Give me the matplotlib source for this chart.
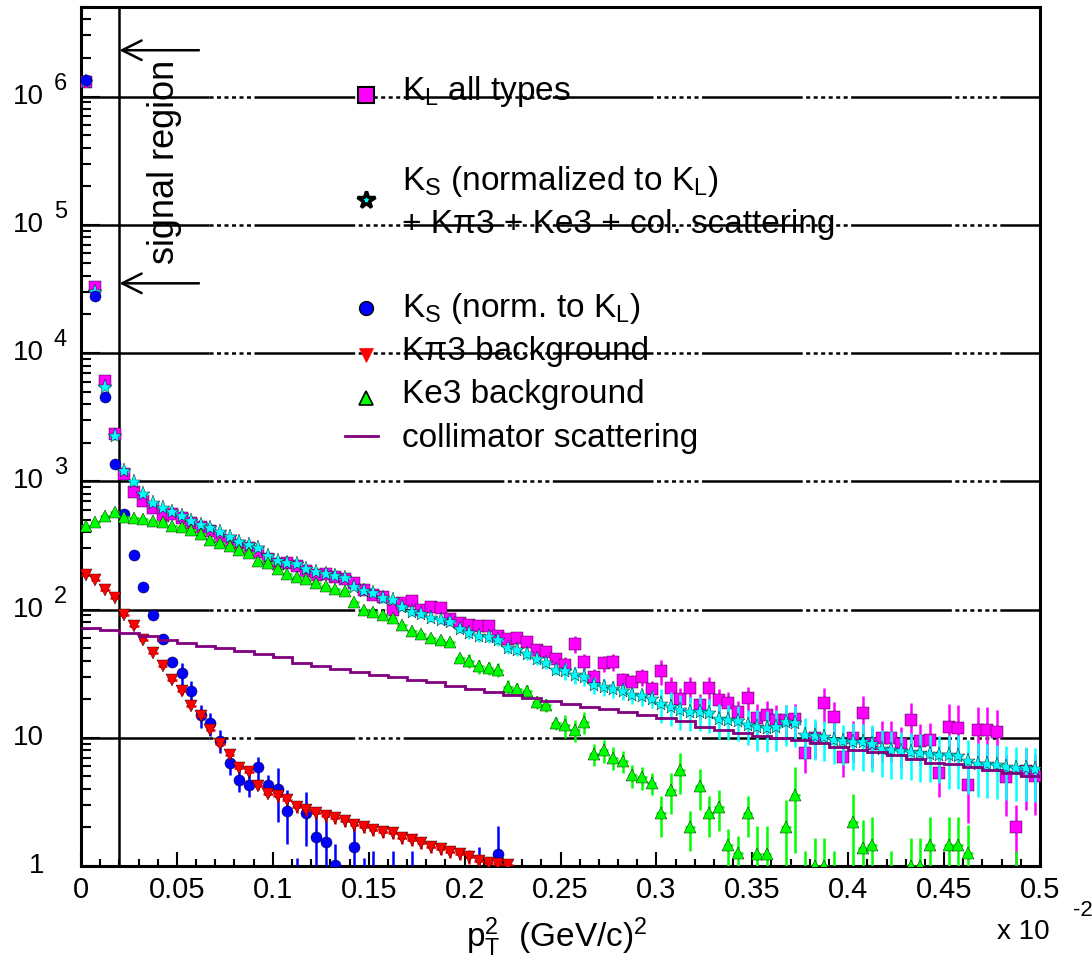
import numpy as np
import matplotlib
matplotlib.use("Agg")
import matplotlib.pyplot as plt
from matplotlib.ticker import FixedLocator, LogLocator, NullFormatter

plt.rcParams["font.family"] = ["Liberation Sans", "DejaVu Sans"]
plt.rcParams["mathtext.fontset"] = "custom"
plt.rcParams["mathtext.rm"] = "Liberation Sans"
plt.rcParams["mathtext.it"] = "Liberation Sans"
plt.rcParams["lines.scale_dashes"] = False

nan = np.nan

# --- data: 100 bins of 0.005 in pT^2 (axis in units of 10^-2 (GeV/c)^2) ---
bin_width = 0.005
n_bins = 100

kl_all = [1.3e6, 3.25e4, 6100, 2350, 1150, 830, 700, 620, 540, 560,
          520, 470, 440, 410, 370, 345, 315, 300, 280, 250,
          228, 232, 218, 200, 185, 188, 178, 172, 160, 142,
          130, 126, 100, 112, 117, 100, 104, 102, 84, 78,
          76, 75, 74, 62, 59, 60, 56, 48, 47, 41,
          37, 54, 39, 30, 38, 39, 28, 27, 30, 24,
          33, 24.5, 20, 24.5, 18, 24.5, 19.8, 18.7, 16, 20.5,
          14.2, 15, 13.8, 13.8, 14, 7.6, 10, 18.7, 14.6, 7.1,
          10, 15.6, 9, 10, 10, 9, 13.8, 9.5, 9.6, 5.3,
          12.2, 12.0, 4.3, 11.5, 11.5, 11.0, 4.9, 2.0, 5.5, 5.0]

ks_sum = [1.3e6, 3.0e4, 5400, 2240, 1210, 980, 800, 680, 620, 580,
          540, 490, 460, 430, 405, 370, 335, 320, 300, 263,
          240, 232, 228, 208, 198, 190, 182, 176, 150, 140,
          135, 122, 118, 105, 96, 92, 86, 83, 80, 70,
          66, 62, 61, 58, 50, 48, 45, 41, 38, 34,
          33, 31, 30, 26, 25, 24, 23, 21.5, 21, 20,
          18.5, 17.5, 16.5, 16, 16, 15.5, 14, 13.8, 13.5, 12.6,
          12.2, 12.0, 12.2, 13.3, 13.0, 10.6, 10.3, 10.1, 9.6, 9.4,
          9.3, 9.2, 9.0, 8.2, 8.0, 7.9, 7.8, 7.6, 7.5, 7.4,
          7.3, 7.2, 6.6, 6.3, 6.2, 6.1, 5.9, 5.8, 5.8, 5.7]

ks_only = [1.34e6, 2.8e4, 4580, 1370, 560, 264, 151, 91, 59, 39,
           32, 23, 15, 13, 9.5, 6.4, 4.7, 4.3, 5.9, 4.3,
           4.0, 2.7, 0.8, 2.6, 1.68, 1.54, 1.02, nan, 1.4, 0.8,
           0.8, 0.6, 0.8, 0.6, 0.8, nan, nan, nan, 0.6, nan,
           nan, 0.85, nan, 1.25, nan, nan, nan, nan, 0.6, nan,
           nan, nan, 0.6, nan, nan, nan, nan, 0.6, nan, nan] + [nan] * 40

kpi3 = [187, 170, 143, 123, 91, 75, 58, 46, 36, 28,
        23, 17.7, 14.8, 11.5, 9.0, 7.4, 5.8, 5.4, 4.2, 3.65,
        3.5, 3.3, 2.9, 2.75, 2.6, 2.45, 2.35, 2.25, 2.1, 2.0,
        1.9, 1.85, 1.8, 1.65, 1.6, 1.52, 1.4, 1.35, 1.28, 1.24,
        1.18, 1.1, 1.05, 1.03, 1.01] + [nan] * 55

ke3 = [450, 485, 540, 580, 530, 520, 510, 490, 480, 450,
       440, 420, 385, 350, 330, 315, 290, 275, 240, 232,
       208, 190, 180, 172, 160, 152, 145, 140, 115, 100,
       95, 90, 86, 76, 68, 64, 60, 58, 56, 42,
       40, 36, 35, 34, 25, 24, 23, 19, 18, 13,
       12.5, 11.5, 13.3, 7.5, 8.0, 7.0, 6.6, 5.1, 4.9, 4.45,
       2.6, 3.9, 5.6, 2.0, 4.2, 2.6, 2.9, 1.45, 1.26, 2.6,
       1.25, 1.25, nan, 2.0, 3.6, 0.8, 1.0, 1.0, 0.8, nan,
       2.2, 1.38, 1.45, nan, 0.8, nan, 1.0, 1.0, 1.45, nan,
       1.45, 1.45, 1.26, nan, nan, nan, nan, 0.8, nan, nan]

# relative errors, read per block of 10 bins
kl_relerr = [0.01, 0.02, 0.04, 0.07, 0.1, 0.15, 0.22, 0.3, 0.35, 0.5]
sum_relerr = [0.01, 0.02, 0.04, 0.07, 0.1, 0.15, 0.3, 0.35, 0.4, 0.45]
ks_relerr = [0.03, 0.2, 0.45, 0.65, 0.65, 0.65, 0.65, 0.65, 0.65, 0.65]
kpi3_relerr = [0.02, 0.06, 0.1, 0.1, 0.12, 0.12, 0.12, 0.12, 0.12, 0.12]
ke3_relerr = [0.02, 0.03, 0.05, 0.08, 0.12, 0.2, 0.35, 0.65, 0.65, 0.65]

# collimator scattering, 50 bins of 0.01
coll_width = 0.01
coll_scat = [71.7, 68.7, 65.1, 61.7, 58.1, 54.8, 52.2, 49.7, 47.4, 44.9,
             42.6, 38.4, 36.4, 34.5, 32.7, 31.1, 29.7, 28.3, 27.0, 25.5,
             24.2, 22.9, 21.7, 20.5, 19.5, 18.4, 17.5, 16.7, 15.8, 15.1,
             14.2, 13.4, 12.1, 11.5, 10.9, 10.4, 10.0, 9.6, 9.1, 8.5,
             8.0, 7.7, 7.3, 6.8, 6.4, 6.25, 5.9, 5.6, 5.3, 5.0]

x_ticks = [0, 0.05, 0.1, 0.15, 0.2, 0.25, 0.3, 0.35, 0.4, 0.45, 0.5]
x_tick_labels = ["0", "0.05", "0.1", "0.15", "0.2", "0.25", "0.3",
                 "0.35", "0.4", "0.45", "0.5"]
decades = [0, 1, 2, 3, 4, 5, 6]

# --- figure ---
W, H = 1092, 964
fig = plt.figure(figsize=(W / 100, H / 100), dpi=100)
ax = fig.add_axes([81 / W, 1 - 866 / H, 959 / W, 859 / H])
ax.set_yscale("log", nonpositive="clip")
ax.set_xlim(0, 0.5)
ax.set_ylim(1, 5.0e6)

for s in ax.spines.values():
    s.set_linewidth(2.2)

x = (np.arange(n_bins) + 0.5) * bin_width


def draw_series(values, relerr, marker, color, ms, z):
    y = np.array(values, dtype=float)
    err = y * np.repeat(relerr, 10)
    ax.errorbar(x, y, yerr=err, xerr=bin_width / 2, fmt=marker, color=color,
                ms=ms, mfc=color, mec="black", mew=0.3, elinewidth=1.8,
                capsize=0, zorder=z)


draw_series(kl_all, kl_relerr, "s", "#ff00ff", 8, 3)
draw_series(ks_sum, sum_relerr, "*", "#00ffff", 11, 4)
draw_series(ks_only, ks_relerr, "o", "#0000ff", 8, 5)
draw_series(kpi3, kpi3_relerr, "v", "#ff0000", 9, 6)
draw_series(ke3, ke3_relerr, "^", "#00ff00", 9, 7)

coll_edges = np.arange(len(coll_scat) + 1) * coll_width
ax.stairs(coll_scat, coll_edges, baseline=None, color="#800080", lw=2.0,
          zorder=8)

# --- horizontal lines at the decades (ROOT-like dash-dot pattern) ---
grid_dashes = (2.9, 2.5) * 6 + (72.5, 2.5)
dot_start = (209 - 81) / 959
ytrans = ax.get_yaxis_transform()
for p in decades[1:]:
    ax.plot([0, dot_start], [10.0 ** p] * 2, transform=ytrans, color="black",
            lw=1.8, zorder=2, solid_capstyle="butt")
    ax.plot([dot_start, 1], [10.0 ** p] * 2, transform=ytrans, color="black",
            lw=1.8, zorder=2, linestyle=(0, grid_dashes))

# --- signal region ---
ax.axvline(0.02, color="black", lw=1.8, zorder=2)
for ya in (2.3e6, 3.5e4):
    ax.annotate("", xy=(0.02, ya), xytext=(0.0615, ya),
                arrowprops=dict(arrowstyle="->,head_length=1.4,head_width=0.7",
                                lw=1.8, color="black", shrinkA=0, shrinkB=0,
                                mutation_scale=10))
ax.text((165 - 81) / 959, (866 - 162) / 859, "signal region", rotation=90,
        transform=ax.transAxes, ha="center", va="center", fontsize=26)

# --- ticks ---
ax.xaxis.set_major_locator(FixedLocator(x_ticks))
ax.xaxis.set_minor_locator(FixedLocator(np.arange(0, 0.5001, 0.01)))
ax.set_xticklabels(x_tick_labels, fontsize=21)
ax.yaxis.set_major_locator(LogLocator(base=10, numticks=20))
ax.yaxis.set_minor_locator(LogLocator(base=10, subs=np.arange(2, 10), numticks=20))
ax.yaxis.set_major_formatter(NullFormatter())
ax.yaxis.set_minor_formatter(NullFormatter())
ax.tick_params(axis="both", which="both", direction="in", top=False, right=False,
               width=1.5)
ax.tick_params(axis="x", which="major", length=10, pad=7)
ax.tick_params(axis="x", which="minor", length=5)
ax.tick_params(axis="y", which="major", length=14)
ax.tick_params(axis="y", which="minor", length=7)

for p in decades:
    base = "1" if p == 0 else "10"
    ax.text(-0.0386, 10.0 ** p, base, transform=ytrans, ha="right",
            va="center", fontsize=20)
    if p >= 2:
        ax.text(-0.0282, 10.0 ** p * 10 ** 0.1, str(p), transform=ytrans,
                ha="left", va="center", fontsize=17)

# --- axis title and multiplier ---
ax.text((466 - 81) / 959, (866 - 937) / 859,
        r"$\mathregular{p_T^2}$  (GeV/c)$\mathregular{^2}$",
        transform=ax.transAxes, ha="left", va="center", fontsize=24)
fig.text(997 / W, 1 - 932 / H, "x 10", ha="left", va="center", fontsize=20)
fig.text(1073 / W, 1 - 911 / H, "-2", ha="left", va="center", fontsize=16)

# --- legend (drawn by hand, ROOT style without box) ---
def fx(px):
    return (px - 81) / 959


def fy(py):
    return (866 - py) / 859


mx = fx(366)
ax.plot([mx], [fy(95)], "s", ms=11, mfc="#ff00ff", mec="black", mew=1.5,
        transform=ax.transAxes, clip_on=False, zorder=10)
ax.plot([mx], [fy(200)], "*", ms=13, mfc="#00ffff", mec="black", mew=2.5,
        transform=ax.transAxes, clip_on=False, zorder=10)
ax.plot([mx], [fy(308)], "o", ms=10, mfc="#0000ff", mec="black", mew=1.0,
        transform=ax.transAxes, clip_on=False, zorder=10)
ax.plot([mx], [fy(355)], "v", ms=10, mfc="#ff0000", mec="#ff0000", mew=0.5,
        transform=ax.transAxes, clip_on=False, zorder=10)
ax.plot([mx], [fy(398)], "^", ms=10, mfc="#00ff00", mec="black", mew=1.2,
        transform=ax.transAxes, clip_on=False, zorder=10)
ax.plot([fx(345), fx(378)], [fy(436)] * 2, color="#800080", lw=2.0,
        transform=ax.transAxes, zorder=10)

tx = fx(402)
legend_entries = [
    (100, r"$\mathregular{K_L}$ all types"),
    (190, r"$\mathregular{K_S}$ (normalized to $\mathregular{K_L}$)"),
    (233, "+ Kπ3 + Ke3 + col. scattering"),
    (317, r"$\mathregular{K_S}$ (norm. to $\mathregular{K_L}$)"),
    (360, "Kπ3 background"),
    (403, "Ke3 background"),
    (447, "collimator scattering"),
]
for py, label in legend_entries:
    ax.text(tx, fy(py), label, transform=ax.transAxes, ha="left",
            va="baseline", fontsize=24, zorder=11)

fig.savefig("out.png", dpi=100)
